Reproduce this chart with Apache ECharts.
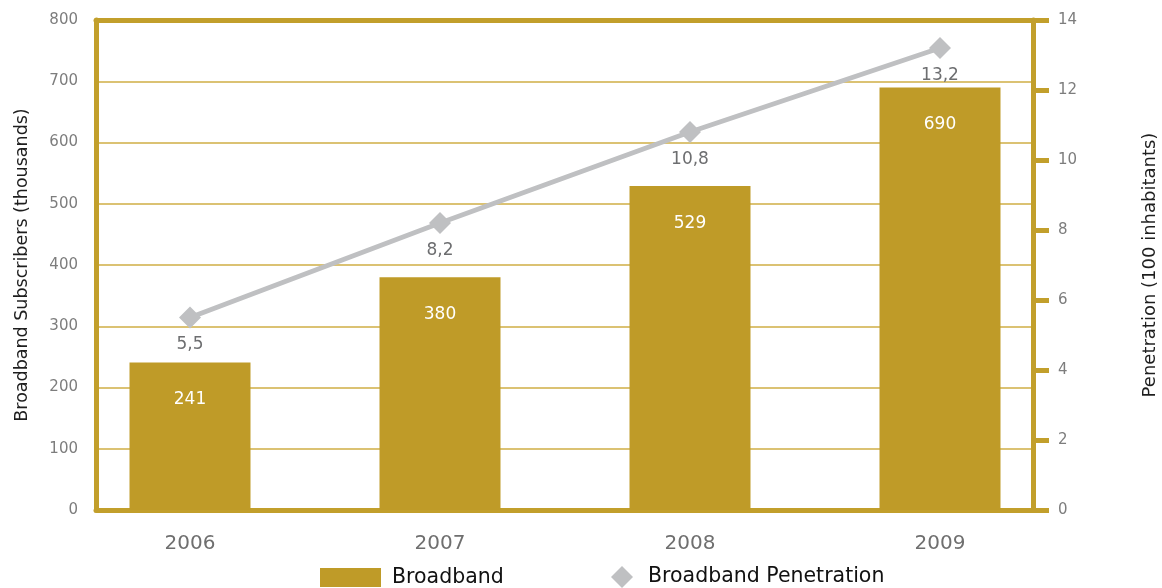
<!DOCTYPE html>
<html>
<head>
<meta charset="utf-8">
<script src="https://cdn.jsdelivr.net/npm/echarts@6/dist/echarts.min.js"></script>
<style>
  html, body { margin: 0; padding: 0; background: #ffffff; }
  #chart { width: 1162px; height: 588px; }
</style>
</head>
<body>
<div id="chart"></div>
<script>
const years = ['2006', '2007', '2008', '2009'];
const broadband = [241, 380, 529, 690];
const penetration = [5.5, 8.2, 10.8, 13.2];
const leftTicks = { min: 0, max: 800, interval: 100 };
const rightTicks = { min: 0, max: 14, interval: 2 };

const GOLD = '#bf9b28';
const AXIS_GOLD = '#c29f2b';
const GRID_GOLD = '#cfae45';
const GREY_LINE = '#bfc0c2';
const FONT = 'DejaVu Sans';

const chart = echarts.init(document.getElementById('chart'), null, { renderer: 'canvas' });

const hiddenValueAxis = (grid, range) => ({
  gridIndex: grid, type: 'value', show: false,
  min: range.min, max: range.max, interval: range.interval
});

// frame edges of the plot box (top and bottom)
const frameAxis = (pos) => ({
  gridIndex: 1, type: 'value', min: 0, max: 1, position: pos,
  axisLine: { show: true, onZero: false, lineStyle: { color: AXIS_GOLD, width: 5 } },
  axisTick: { show: false }, axisLabel: { show: false }, splitLine: { show: false }
});

chart.setOption({
  animation: false,
  textStyle: { fontFamily: FONT },
  grid: [
    // plotting band for the series and year labels
    { left: 65, right: 97, top: 20, bottom: 78, outerBoundsMode: 'none' },
    // framed box with gridlines and value axes
    { left: 96, right: 129, top: 20, bottom: 78, outerBoundsMode: 'none' }
  ],
  xAxis: [
    {
      gridIndex: 0, type: 'category', data: years,
      axisLine: { show: false }, axisTick: { show: false },
      axisLabel: { color: '#6f6f6f', fontSize: 20, margin: 24, fontFamily: FONT }
    },
    frameAxis('bottom'),
    frameAxis('top')
  ],
  yAxis: [
    hiddenValueAxis(0, leftTicks),
    hiddenValueAxis(0, rightTicks),
    {
      gridIndex: 1, type: 'value', position: 'left',
      min: leftTicks.min, max: leftTicks.max, interval: leftTicks.interval,
      name: 'Broadband Subscribers (thousands)', nameLocation: 'middle', nameGap: 65, nameRotate: 90,
      nameTextStyle: { color: '#1e1e1e', fontSize: 17.5, fontFamily: FONT },
      axisLine: { show: true, onZero: false, lineStyle: { color: AXIS_GOLD, width: 5 } },
      axisTick: { show: false },
      axisLabel: { color: '#7d7d7d', fontSize: 15, margin: 18, fontFamily: FONT },
      splitLine: { show: true, lineStyle: { color: GRID_GOLD, width: 1.5 } }
    },
    {
      gridIndex: 1, type: 'value', position: 'right',
      min: rightTicks.min, max: rightTicks.max, interval: rightTicks.interval,
      name: 'Penetration (100 inhabitants)', nameLocation: 'middle', nameGap: 108, nameRotate: 90,
      nameTextStyle: { color: '#1e1e1e', fontSize: 18, fontFamily: FONT },
      axisLine: { show: true, onZero: false, lineStyle: { color: AXIS_GOLD, width: 5 } },
      axisTick: { show: true, inside: false, length: 16, lineStyle: { color: AXIS_GOLD, width: 5 } },
      axisLabel: { color: '#7d7d7d', fontSize: 15, margin: 25, fontFamily: FONT },
      splitLine: { show: false }
    }
  ],
  legend: [
    {
      data: [{ name: 'Broadband', icon: 'rect' }],
      left: 320, top: 567, padding: 0, itemWidth: 61, itemHeight: 19,
      textStyle: { color: '#111111', fontSize: 20.5, fontFamily: FONT, padding: [0, 0, 0, 6] }
    },
    {
      data: [{ name: 'Broadband Penetration', icon: 'diamond' }],
      left: 611, top: 566, padding: 0, itemWidth: 22, itemHeight: 22,
      textStyle: { color: '#111111', fontSize: 20.5, fontFamily: FONT, padding: [0, 0, 0, 10] }
    }
  ],
  series: [
    {
      name: 'Broadband', type: 'bar', xAxisIndex: 0, yAxisIndex: 0,
      data: broadband, barWidth: 121,
      itemStyle: { color: GOLD },
      label: {
        show: true, position: 'insideTop', distance: 29,
        color: '#ffffff', fontSize: 17, fontFamily: FONT
      }
    },
    {
      name: 'Broadband Penetration', type: 'line', xAxisIndex: 0, yAxisIndex: 1,
      data: penetration,
      symbol: 'diamond', symbolSize: 22,
      lineStyle: { color: GREY_LINE, width: 5 },
      itemStyle: { color: GREY_LINE },
      label: {
        show: true, position: 'bottom', distance: 8,
        color: '#6d6e70', fontSize: 17, fontFamily: FONT,
        formatter: p => String(p.value).replace('.', ',')
      },
      z: 3
    }
  ]
});
</script>
</body>
</html>
